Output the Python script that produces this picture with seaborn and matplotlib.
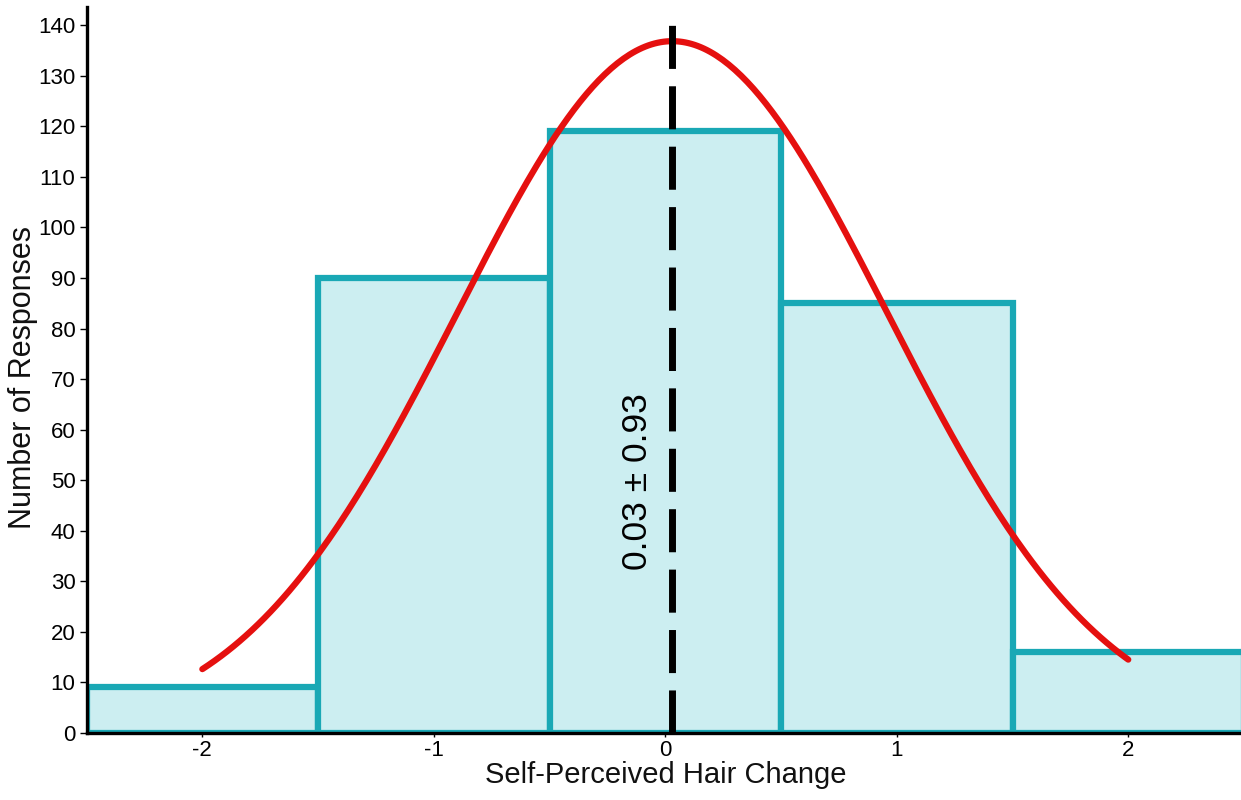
import numpy as np
import pandas as pd
import matplotlib
matplotlib.use("Agg")
import matplotlib.pyplot as plt
import seaborn as sns

# Response counts per self-perceived hair change score
scores = [-2, -1, 0, 1, 2]
counts = [9, 90, 119, 85, 16]
bin_edges = [-2.5, -1.5, -0.5, 0.5, 1.5, 2.5]
y_ticks = list(range(0, 141, 10))
x_ticks = [-2, -1, 0, 1, 2]
x_tick_labels = ["-2", "-1", "0", "1", "2"]

# Summary statistics of the responses
mean_score = 0.03
sd_score = 0.93
annotation = "0.03 \u00b1 0.93"

sns.set_theme(style="white")
plt.rcParams["font.family"] = ["Liberation Sans", "DejaVu Sans"]

fig = plt.figure(figsize=(12.41, 8.0), dpi=100)
ax = fig.add_axes([86.6 / 1241, 67 / 800, (1244 - 86.6) / 1241, 726 / 800])

df = pd.DataFrame({"score": scores, "count": counts})
sns.histplot(data=df, x="score", weights="count", bins=bin_edges,
             color="#CCEEF1", edgecolor="#19A8B5", linewidth=4.5,
             alpha=1.0, ax=ax, zorder=1)

# Fitted normal curve scaled to the number of responses (bin width 1)
n_total = sum(counts)
curve_x = np.linspace(-2, 2, 300)
curve_y = n_total / (sd_score * np.sqrt(2 * np.pi)) * np.exp(-0.5 * ((curve_x - mean_score) / sd_score) ** 2)
sns.lineplot(x=curve_x, y=curve_y, color="#E5100F", linewidth=4.5, ax=ax, zorder=3)

# Mean marker
ax.plot([mean_score, mean_score], [0, 141.5], color="black", linewidth=5.0,
        dashes=(6.2, 2.5), solid_capstyle="butt", dash_capstyle="butt", zorder=4)
ax.text(-0.122, 49.7, annotation, rotation=90, ha="center", va="center",
        fontsize=25.5, color="black", zorder=5)

ax.set_xlim(-2.5, 2.5)
ax.set_ylim(0, 143.6)
ax.set_yticks(y_ticks)
ax.set_xticks(x_ticks)
ax.set_xticklabels(x_tick_labels)
ax.tick_params(axis="both", labelsize=16, colors="black", length=5, width=1.0,
               left=True, bottom=True, pad=3)
ax.tick_params(axis="x", length=3, pad=2)
ax.set_xlabel("Self-Perceived Hair Change", fontsize=21, color="#111111", labelpad=0)
ax.set_ylabel("Number of Responses", fontsize=22, color="#111111")
ax.yaxis.set_label_coords(-0.042, 0.49)

for side in ["top", "right"]:
    ax.spines[side].set_visible(False)
for side in ["left", "bottom"]:
    ax.spines[side].set_color("black")
    ax.spines[side].set_linewidth(2.4)
    ax.spines[side].set_zorder(6)

fig.savefig("out.png", dpi=100)
